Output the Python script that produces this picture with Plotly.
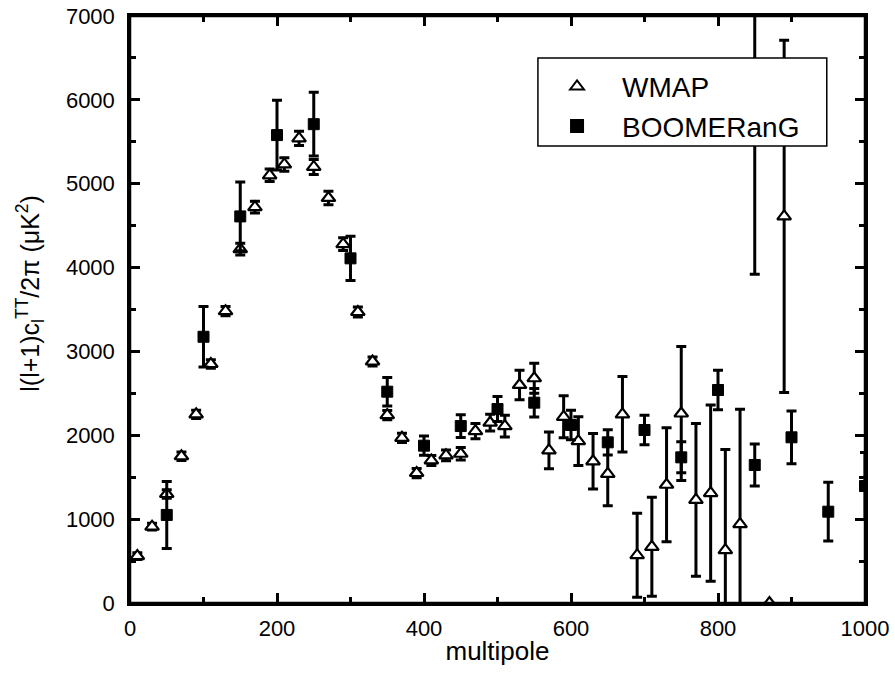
import plotly.graph_objects as go

# WMAP binned TT spectrum
wmap_l = [10, 30, 50, 70, 90, 110, 130, 150, 170, 190, 210, 230, 250, 270, 290,
          310, 330, 350, 370, 390, 410, 430, 450, 470, 490, 510, 530, 550, 570,
          590, 610, 630, 650, 670, 690, 710, 730, 750, 770, 790, 810, 830, 850,
          870, 890]
wmap_cl = [560, 910, 1300, 1750, 2250, 2850, 3480, 4220, 4720, 5100, 5230, 5540,
           5200, 4830, 4280, 3470, 2880, 2240, 1970, 1550, 1700, 1760, 1780, 2050,
           2150, 2110, 2600, 2680, 1820, 2220, 1930, 1690, 1540, 2250, 570, 670,
           1410, 2260, 1230, 1310, 630, 940, 7600, 0, 4610]
wmap_err = [40, 40, 50, 50, 50, 50, 55, 70, 70, 75, 80, 85, 90, 80, 75, 60, 55,
            55, 55, 55, 60, 65, 75, 90, 100, 130, 175, 180, 220, 250, 290, 330,
            380, 450, 500, 590, 680, 800, 910, 1050, 1200, 1370, 3680, 0, 2100]

# BOOMERanG TT spectrum
boom_l = [50, 100, 150, 200, 250, 300, 350, 400, 450, 500, 550, 600, 650, 700,
          750, 800, 850, 900, 950, 1000]
boom_cl = [1050, 3175, 4610, 5580, 5710, 4110, 2520, 1876, 2110, 2313, 2389, 2123,
           1916, 2063, 1737, 2540, 1646, 1976, 1089, 1395]
boom_err = [400, 360, 410, 415, 380, 265, 170, 115, 135, 150, 170, 175, 150, 175,
            185, 235, 250, 315, 350, 400]

FONT = "Liberation Sans, Arial, sans-serif"

fig = go.Figure()
fig.add_trace(go.Scatter(
    x=wmap_l, y=wmap_cl, mode="markers", name="WMAP", legendgroup="a",
    marker=dict(symbol="triangle-up", size=12, color="white",
                line=dict(color="black", width=2.2)),
    error_y=dict(type="data", array=wmap_err, visible=True, color="black",
                 thickness=3, width=5),
))
fig.add_trace(go.Scatter(
    x=boom_l, y=boom_cl, mode="markers", name="BOOMERanG", legendgroup="b",
    marker=dict(symbol="square", size=11, color="black",
                line=dict(color="black", width=1)),
    error_y=dict(type="data", array=boom_err, visible=True, color="black",
                 thickness=3, width=5),
))

axis_common = dict(
    showline=True, linecolor="black", linewidth=2.5, mirror="allticks",
    ticks="inside", ticklen=10, tickwidth=2.5, tickcolor="black",
    showgrid=False, zeroline=False, automargin=False,
    tickfont=dict(family=FONT, size=22, color="black"),
)

fig.update_xaxes(
    range=[0, 1000], dtick=200, tick0=0, ticklabelstandoff=4,
    minor=dict(ticks="inside", dtick=100, ticklen=6, tickwidth=2.5, tickcolor="black"),
    title=dict(text="multipole", standoff=2,
               font=dict(family=FONT, size=26, color="black")),
    **axis_common,
)
fig.update_yaxes(
    range=[0, 7000], dtick=1000, tick0=0, ticklabelstandoff=8,
    minor=dict(ticks="inside", dtick=500, ticklen=6, tickwidth=2.5, tickcolor="black"),
    **axis_common,
)

# y-axis title, placed slightly above centre as in the original
fig.add_annotation(
    text="l(l+1)c<sub>l</sub><sup>TT</sup>/2π (μK<sup>2</sup>)",
    xref="paper", yref="paper", x=-0.136, y=0.527,
    xanchor="center", yanchor="middle", textangle=-90, showarrow=False,
    font=dict(family=FONT, size=25, color="black"),
)

# full plot frame
fig.add_shape(type="rect", xref="paper", yref="paper", x0=0, x1=1, y0=0, y1=1,
              line=dict(color="black", width=2.5), layer="above")

# legend frame
fig.add_shape(type="rect", xref="paper", yref="paper",
              x0=0.555, x1=0.948, y0=0.7785, y1=0.9285,
              fillcolor="white", line=dict(color="black", width=1.5), layer="above")

fig.update_layout(
    width=895, height=673,
    margin=dict(l=130, r=30, t=16, b=70),
    plot_bgcolor="white", paper_bgcolor="white",
    showlegend=True,
    legend=dict(x=0.547, y=0.922, xanchor="left", yanchor="top",
                bgcolor="rgba(0,0,0,0)", borderwidth=0,
                font=dict(family=FONT, size=28, color="black"),
                itemsizing="constant", itemwidth=80, tracegroupgap=0),
)

fig.write_html("out.html", config={"displayModeBar": False},
               post_script="document.body.style.margin='0';")
